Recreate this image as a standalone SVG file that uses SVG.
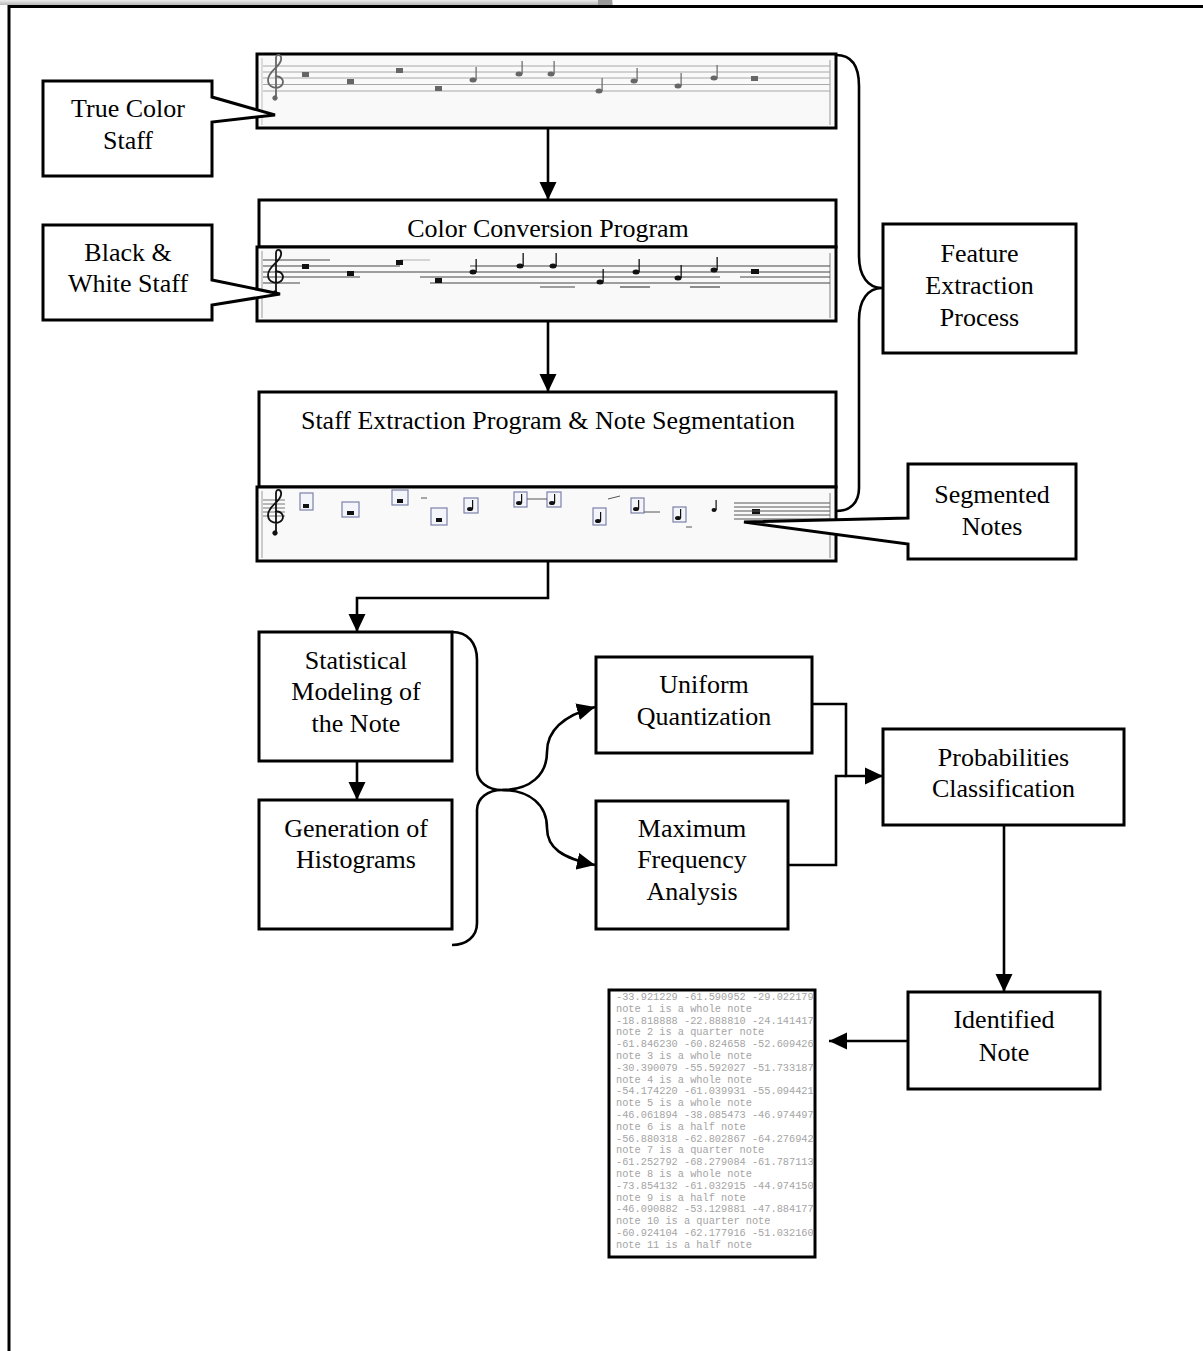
<svg xmlns="http://www.w3.org/2000/svg" width="1203" height="1351" viewBox="0 0 1203 1351">
<defs>
<style>
.box{fill:#fff;stroke:#000;stroke-width:3}
.lbl{font-family:"Liberation Serif","Times New Roman",serif;font-size:26px;fill:#000;text-anchor:middle}
.con{fill:none;stroke:#000;stroke-width:2.6}
.img{fill:#f9f9f9;stroke:#000;stroke-width:3}
.sl1{stroke:#a8a8a8;stroke-width:1}
.sl2{stroke:#444;stroke-width:1.2}
.n1{fill:#666}
.n2{fill:#111}
.seg{fill:#f4f5fb;stroke:#7b80a8;stroke-width:1.2}
.out{font-family:"Liberation Mono","Courier New",monospace;font-size:10.3px;fill:#a4a4a4}
</style>
<marker id="ah" markerWidth="18" markerHeight="18" refX="18" refY="9" orient="auto" markerUnits="userSpaceOnUse"><path d="M0,0.5 L18,9 L0,17.5 Z" fill="#000"/></marker>
<linearGradient id="bar" x1="0" y1="0" x2="0" y2="1"><stop offset="0" stop-color="#ececec"/><stop offset="1" stop-color="#b8b8b8"/></linearGradient>
<g id="clef"><path d="M0,42 L0,2 C0,-3 6,-2 5,4 C4,11 -8,15 -8,24 C-8,32 2,34 6,29 C9,24 4,19 -1,21" fill="none" stroke-width="1.8"/><circle cx="-1" cy="42" r="2.2"/></g>
</defs>

<g id="frame">
<rect x="0" y="0" width="613" height="5" fill="url(#bar)"/>
<rect x="598" y="0" width="14" height="5" fill="#9a9a9a"/>
<path d="M9,1351 V6.5 H1203" fill="none" stroke="#000" stroke-width="3"/>
</g>

<g id="connectors">
<path class="con" d="M548,128 V200" marker-end="url(#ah)"/>
<path class="con" d="M548,321 V392" marker-end="url(#ah)"/>
<path class="con" d="M548,561 V598 H357 V632" marker-end="url(#ah)"/>
<path class="con" d="M357,761 V800" marker-end="url(#ah)"/>
<path class="con" d="M836,55 C852,55 859,67 859,86 V256 C859,276 868,288 882,288 C868,288 859,300 859,320 V488 C859,503 850,511 836,511"/>
<path class="con" d="M452,632 C468,632 477,643 477,660 V770 C477,782 488,790 502,790 C488,790 477,798 477,810 V923 C477,937 466,945 452,945"/>
<path class="con" d="M502,790 C530,790 547,775 547,752 C547,732 562,716 595,707" marker-end="url(#ah)"/>
<path class="con" d="M502,790 C530,790 547,805 547,828 C547,848 562,858 595,865" marker-end="url(#ah)"/>
<path class="con" d="M812,704 H846 V776 H883" marker-end="url(#ah)"/>
<path class="con" d="M788,865 H836 V776 H846"/>
<path class="con" d="M1004,825 V992" marker-end="url(#ah)"/>
<path class="con" d="M908,1041 H829" marker-end="url(#ah)"/>
</g>

<g id="true-color-staff-img">
<rect class="img" x="257" y="54" width="579" height="74"/>
<line x1="262" y1="58" x2="262" y2="125" stroke="#d0d0d0" stroke-width="1.5"/>
<line x1="830" y1="60" x2="830" y2="125" stroke="#b8b8b8" stroke-width="1.5"/>
<g class="sl1">
<line x1="263" y1="66" x2="830" y2="66"/><line x1="263" y1="72" x2="830" y2="72"/><line x1="263" y1="78" x2="830" y2="78"/><line x1="263" y1="84.5" x2="830" y2="84.5"/><line x1="263" y1="91" x2="830" y2="91"/>
</g>
<use href="#clef" x="276" y="56" stroke="#666" fill="#666"/>
<g class="n1">
<rect x="302" y="72" width="7" height="5"/><rect x="347" y="79" width="7" height="5"/><rect x="396" y="68" width="7" height="5"/><rect x="435" y="86" width="7" height="5"/>
<ellipse cx="473" cy="80" rx="3.5" ry="2.5"/><rect x="475.5" y="67" width="1.2" height="13"/>
<ellipse cx="519" cy="74" rx="3.5" ry="2.5"/><rect x="521.5" y="61" width="1.2" height="13"/>
<ellipse cx="551" cy="74" rx="3.5" ry="2.5"/><rect x="553.5" y="61" width="1.2" height="13"/>
<ellipse cx="599" cy="91" rx="3.5" ry="2.5"/><rect x="601.5" y="78" width="1.2" height="13"/>
<ellipse cx="634" cy="81" rx="3.5" ry="2.5"/><rect x="636.5" y="68" width="1.2" height="13"/>
<ellipse cx="678" cy="86" rx="3.5" ry="2.5"/><rect x="680.5" y="73" width="1.2" height="13"/>
<ellipse cx="714" cy="78" rx="3.5" ry="2.5"/><rect x="716.5" y="65" width="1.2" height="13"/>
<rect x="751" y="76" width="7" height="5"/>
</g>
</g>

<g id="true-color-staff">
<path class="box" d="M43,81 H212 V97 L275,115 L212,122 V176 H43 Z"/>
<text class="lbl" x="128" y="117">True Color</text>
<text class="lbl" x="128" y="149">Staff</text>
</g>

<g id="color-conversion">
<rect class="box" x="259" y="200" width="577" height="47"/>
<text class="lbl" x="548" y="237">Color Conversion Program</text>
</g>

<g id="bw-staff-img">
<rect class="img" x="257" y="247" width="579" height="74" fill="#fcfcfc"/>
<line x1="262" y1="251" x2="262" y2="318" stroke="#bbb" stroke-width="1.5"/>
<line x1="830" y1="253" x2="830" y2="318" stroke="#aaa" stroke-width="1.5"/>
<g class="sl2">
<line x1="263" y1="260" x2="330" y2="260"/><line x1="400" y1="260" x2="430" y2="260" stroke="#bbb"/>
<line x1="263" y1="266" x2="400" y2="266"/><line x1="470" y1="266" x2="830" y2="266"/>
<line x1="263" y1="272" x2="830" y2="272"/>
<line x1="263" y1="277" x2="360" y2="277"/><line x1="420" y1="277" x2="720" y2="277"/><line x1="740" y1="277" x2="830" y2="277"/>
<line x1="263" y1="283" x2="300" y2="283"/><line x1="430" y1="283" x2="830" y2="283"/>
<line x1="540" y1="287" x2="575" y2="287"/><line x1="620" y1="287" x2="650" y2="287"/><line x1="690" y1="287" x2="720" y2="287"/>
</g>
<use href="#clef" x="276" y="251" stroke="#111" fill="#111"/>
<g class="n2">
<rect x="302" y="264" width="7" height="5"/><rect x="347" y="271" width="7" height="5"/><rect x="396" y="260" width="7" height="5"/><rect x="435" y="278" width="7" height="5"/>
<ellipse cx="473" cy="272" rx="3.5" ry="2.5"/><rect x="475.5" y="259" width="1.3" height="13"/>
<ellipse cx="520" cy="266" rx="3.5" ry="2.5"/><rect x="522.5" y="253" width="1.3" height="13"/>
<ellipse cx="553" cy="266" rx="3.5" ry="2.5"/><rect x="555.5" y="253" width="1.3" height="13"/>
<ellipse cx="600" cy="282" rx="3.5" ry="2.5"/><rect x="602.5" y="269" width="1.3" height="13"/>
<ellipse cx="636" cy="272" rx="3.5" ry="2.5"/><rect x="638.5" y="259" width="1.3" height="13"/>
<ellipse cx="678" cy="278" rx="3.5" ry="2.5"/><rect x="680.5" y="265" width="1.3" height="13"/>
<ellipse cx="714" cy="270" rx="3.5" ry="2.5"/><rect x="716.5" y="257" width="1.3" height="13"/>
<rect x="751" y="269" width="8" height="5"/>
</g>
</g>

<g id="bw-staff">
<path class="box" d="M43,225 H212 V280 L280,294 L212,305 V320 H43 Z"/>
<text class="lbl" x="128" y="261">Black &amp;</text>
<text class="lbl" x="128" y="292">White Staff</text>
</g>

<g id="staff-extraction">
<rect class="box" x="259" y="392" width="577" height="95"/>
<text class="lbl" x="548" y="429">Staff Extraction Program &amp; Note Segmentation</text>
</g>

<g id="segmented-staff-img">
<rect class="img" x="257" y="487" width="579" height="74" fill="#fcfcfc"/>
<line x1="262" y1="491" x2="262" y2="558" stroke="#bbb" stroke-width="1.5"/>
<line x1="830" y1="493" x2="830" y2="558" stroke="#aaa" stroke-width="1.5"/>
<g stroke="#777" stroke-width="1">
<line x1="263" y1="500" x2="285" y2="500"/><line x1="263" y1="504" x2="285" y2="504"/><line x1="263" y1="508" x2="285" y2="508"/><line x1="263" y1="512" x2="285" y2="512"/><line x1="263" y1="516" x2="285" y2="516"/>
</g>
<use href="#clef" x="276" y="491" stroke="#111" fill="#111"/>
<g class="seg">
<rect x="300" y="493" width="13" height="17"/><rect x="342" y="502" width="17" height="15"/><rect x="392" y="490" width="16" height="15"/><rect x="431" y="508" width="16" height="17"/><rect x="464" y="498" width="14" height="15"/><rect x="514" y="492" width="13" height="15"/><rect x="547" y="492" width="14" height="15"/><rect x="593" y="508" width="13" height="17"/><rect x="631" y="498" width="13" height="15"/><rect x="673" y="507" width="13" height="15"/>
</g>
<g class="n2">
<rect x="303" y="504" width="6" height="4"/><rect x="347" y="511" width="7" height="4"/><rect x="397" y="499" width="6" height="4"/><rect x="436" y="518" width="6" height="4"/>
<ellipse cx="470" cy="509" rx="3" ry="2"/><rect x="472" y="500" width="1.2" height="9"/>
<ellipse cx="519" cy="503" rx="3" ry="2"/><rect x="521" y="494" width="1.2" height="9"/>
<ellipse cx="552" cy="503" rx="3" ry="2"/><rect x="554" y="494" width="1.2" height="9"/>
<ellipse cx="598" cy="521" rx="3" ry="2"/><rect x="600" y="512" width="1.2" height="9"/>
<ellipse cx="636" cy="509" rx="3" ry="2"/><rect x="638" y="500" width="1.2" height="9"/>
<ellipse cx="678" cy="518" rx="3" ry="2"/><rect x="680" y="509" width="1.2" height="9"/>
<ellipse cx="714" cy="510" rx="2.5" ry="2"/><rect x="715.5" y="500" width="1.2" height="10"/>
<rect x="752" y="509" width="8" height="5"/>
</g>
<g stroke="#555" stroke-width="1">
<line x1="421" y1="498" x2="427" y2="498"/><line x1="527" y1="499" x2="547" y2="499"/><line x1="644" y1="512" x2="660" y2="512"/><line x1="608" y1="499" x2="620" y2="496"/><line x1="686" y1="527" x2="692" y2="527"/>
<line x1="734" y1="503" x2="830" y2="503"/><line x1="734" y1="507" x2="830" y2="507"/><line x1="734" y1="511" x2="830" y2="511"/><line x1="734" y1="515" x2="830" y2="515"/><line x1="734" y1="519" x2="830" y2="519"/>
</g>
</g>

<g id="feature-extraction">
<rect class="box" x="883" y="224" width="193" height="129"/>
<text class="lbl" x="979.5" y="262">Feature</text>
<text class="lbl" x="979.5" y="294">Extraction</text>
<text class="lbl" x="979.5" y="326">Process</text>
</g>

<g id="segmented-notes">
<path class="box" d="M908,464 H1076 V559 H908 V544 L744,522 L908,518 Z"/>
<text class="lbl" x="992" y="503">Segmented</text>
<text class="lbl" x="992" y="535">Notes</text>
</g>

<g id="statistical-modeling">
<rect class="box" x="259" y="632" width="193" height="129"/>
<text class="lbl" x="356" y="669">Statistical</text>
<text class="lbl" x="356" y="700">Modeling of</text>
<text class="lbl" x="356" y="732">the Note</text>
</g>

<g id="generation-histograms">
<rect class="box" x="259" y="800" width="193" height="129"/>
<text class="lbl" x="356" y="837">Generation of</text>
<text class="lbl" x="356" y="868">Histograms</text>
</g>

<g id="uniform-quantization">
<rect class="box" x="596" y="657" width="216" height="96"/>
<text class="lbl" x="704" y="693">Uniform</text>
<text class="lbl" x="704" y="725">Quantization</text>
</g>

<g id="maximum-frequency">
<rect class="box" x="596" y="801" width="192" height="128"/>
<text class="lbl" x="692" y="837">Maximum</text>
<text class="lbl" x="692" y="868">Frequency</text>
<text class="lbl" x="692" y="900">Analysis</text>
</g>

<g id="probabilities-classification">
<rect class="box" x="883" y="729" width="241" height="96"/>
<text class="lbl" x="1003.5" y="766">Probabilities</text>
<text class="lbl" x="1003.5" y="797">Classification</text>
</g>

<g id="identified-note">
<rect class="box" x="908" y="992" width="192" height="97"/>
<text class="lbl" x="1004" y="1028">Identified</text>
<text class="lbl" x="1004" y="1061">Note</text>
</g>

<g id="output-list">
<rect x="609" y="990" width="206" height="267" fill="#fff" stroke="#000" stroke-width="3"/>
<g class="out">
<text x="616" y="1000">-33.921229 -61.590952 -29.022179</text>
<text x="616" y="1011.8">note 1 is a whole note</text>
<text x="616" y="1023.6">-18.818888 -22.888810 -24.141417</text>
<text x="616" y="1035.4">note 2 is a quarter note</text>
<text x="616" y="1047.2">-61.846230 -60.824658 -52.609426</text>
<text x="616" y="1059">note 3 is a whole note</text>
<text x="616" y="1070.8">-30.390079 -55.592027 -51.733187</text>
<text x="616" y="1082.6">note 4 is a whole note</text>
<text x="616" y="1094.4">-54.174220 -61.039931 -55.094421</text>
<text x="616" y="1106.2">note 5 is a whole note</text>
<text x="616" y="1118">-46.061894 -38.085473 -46.974497</text>
<text x="616" y="1129.8">note 6 is a half note</text>
<text x="616" y="1141.6">-56.880318 -62.802867 -64.276942</text>
<text x="616" y="1153.4">note 7 is a quarter note</text>
<text x="616" y="1165.2">-61.252792 -68.279084 -61.787113</text>
<text x="616" y="1177">note 8 is a whole note</text>
<text x="616" y="1188.8">-73.854132 -61.032915 -44.974150</text>
<text x="616" y="1200.6">note 9 is a half note</text>
<text x="616" y="1212.4">-46.090882 -53.129881 -47.884177</text>
<text x="616" y="1224.2">note 10 is a quarter note</text>
<text x="616" y="1236">-60.924104 -62.177916 -51.032160</text>
<text x="616" y="1247.8">note 11 is a half note</text>
</g>
</g>
</svg>
